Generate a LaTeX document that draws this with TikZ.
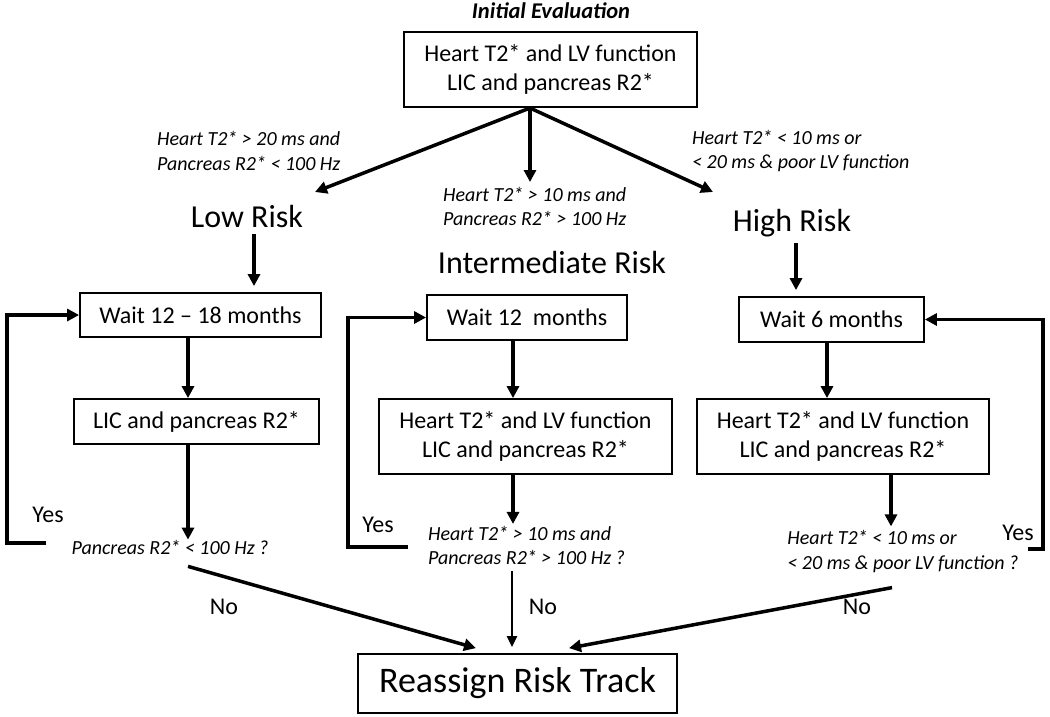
\documentclass[tikz,border=0pt]{standalone}
\usepackage{fontspec}
\setmainfont{Carlito}
\usetikzlibrary{arrows.meta,calc}
\begin{document}
\begin{tikzpicture}[x=1pt,y=-1pt,
  box/.style={draw, line width=1.8pt, inner sep=0pt, align=center,
    font=\fontsize{24}{29.3}\selectfont},
  cond/.style={inner sep=0pt, align=left, anchor=west,
    font=\fontsize{20}{24.4}\selectfont\itshape},
  risk/.style={inner sep=0pt, font=\fontsize{32}{38}\selectfont},
  lbl/.style={inner sep=0pt, font=\fontsize{24}{29}\selectfont},
  arr/.style={line width=3.5pt, -{Triangle[length=12pt,width=12pt]}},
  thinarr/.style={line width=2.5pt, -{Triangle[length=11pt,width=10pt]}},
  loop/.style={line width=3.5pt, line cap=butt, line join=miter, -{Triangle[length=12pt,width=12pt]}}]
\useasboundingbox (0,0) rectangle (1050,716);
\fill[white] (0,0) rectangle (1050,716);

% title and top box
\node[inner sep=0pt, font=\fontsize{22.5}{27}\selectfont\bfseries\itshape] (title) at (551,11) {Initial Evaluation};
\node[box, minimum width=293pt, minimum height=75pt] (top) at (550.5,69.5) {Heart T2* and LV function\\LIC and pancreas R2*};
\coordinate (fork) at (530,108);

% branch conditions
\node[cond] (lowcond) at (157,151) {Heart T2* > 20 ms and\\Pancreas R2* < 100 Hz};
\node[cond] (midcond) at (443,206.5) {Heart T2* > 10 ms and\\Pancreas R2* > 100 Hz};
\node[cond] (highcond) at (692,151) {Heart T2* < 10 ms or\\< 20 ms \& poor LV function};

% risk labels
\node[risk] (lowrisk) at (247,217) {Low Risk};
\node[risk] (midrisk) at (552,262) {Intermediate Risk};
\node[risk] (highrisk) at (792,223) {High Risk};

\coordinate (lowtip) at (315,192);
\coordinate (midtip) at (530,182);
\coordinate (hightip) at (713,192);
\draw[arr] (fork) -- (lowtip);
\draw[arr] (fork) -- (midtip);
\draw[arr] (fork) -- (hightip);

% low branch
\node[box, minimum width=241pt, minimum height=44pt] (lowwait) at (200.5,315) {Wait 12 -- 18 months};
\node[box, minimum width=245pt, minimum height=45pt] (lowlic) at (196.5,421.5) {LIC and pancreas R2*};
\node[cond, anchor=center] (lowq) at (170,547) {Pancreas R2* < 100 Hz ?};
\draw[arr] ($(lowrisk.south)+(7,6)$) -- ($(lowwait.north)+(53.5,-6)$);
\draw[arr] ($(lowwait.south)+(-12.5,0)$) -- ($(lowlic.north)+(-8.5,0)$);
\draw[arr] ($(lowlic.south)+(-8.5,0)$) -- ($(lowq.north)+(18,0)$);
\draw[loop] ($(lowq.west)+(-25,-4)$) -- (7,543) |- (lowwait.west);
\node[lbl] (lowyes) at (48,515) {Yes};

% intermediate branch
\node[box, minimum width=200pt, minimum height=45pt] (midwait) at (527,317.5) {Wait 12\ \ months};
\node[box, minimum width=293pt, minimum height=75pt] (midlic) at (525.5,436.5) {Heart T2* and LV function\\LIC and pancreas R2*};
\node[cond, anchor=center] (midq) at (526.5,545.5) {Heart T2* > 10 ms and\\Pancreas R2* > 100 Hz ?};
\draw[arr] ($(midwait.south)+(-14,0)$) -- ($(midlic.north)+(-12.5,0)$);
\draw[arr] ($(midlic.south)+(-12.5,0)$) -- ($(midq.north)+(-13.5,-2)$);
\draw[loop] ($(midq.west)+(-20,1.5)$) -- (348,547) |- (midwait.west);
\node[lbl] (midyes) at (378,525) {Yes};

% high branch
\node[box, minimum width=185pt, minimum height=45pt] (highwait) at (831.5,319.5) {Wait 6 months};
\node[box, minimum width=292pt, minimum height=75pt] (highlic) at (843,436.5) {Heart T2* and LV function\\LIC and pancreas R2*};
\node[cond, anchor=center] (highq) at (903,551.5) {Heart T2* < 10 ms or\\< 20 ms \& poor LV function ?};
\draw[arr] ($(highrisk.south)+(4,6)$) -- ($(highwait.north)+(-35.5,-6)$);
\draw[arr] ($(highwait.south)+(-4.5,0)$) -- ($(highlic.north)+(-16,0)$);
\draw[arr] ($(highlic.south)+(48,0)$) -- ($(highq.north)+(-12,-4)$);
\draw[loop] ($(highq.east)+(9,-2.5)$) -- (1043,549) |- (highwait.east);
\node[lbl] (highyes) at (1018,533) {Yes};

% final
\node[box, minimum width=319pt, minimum height=59pt, font=\fontsize{36}{43}\selectfont] (final) at (517.5,683.5) {Reassign Risk Track};
\draw[arr] ($(lowq.south)+(18,12)$) -- ($(final.north)+(-41.5,-5)$);
\draw[thinarr] ($(midq.south)+(-14.5,6)$) -- ($(final.north)+(-5.5,-6)$);
\draw[arr] ($(highq.south)+(-11,15)$) -- ($(final.north)+(51.5,-5)$);
\node[lbl] (lowno) at (224,607) {No};
\node[lbl] (midno) at (543,607) {No};
\node[lbl] (highno) at (857,607) {No};
\end{tikzpicture}
\end{document}
